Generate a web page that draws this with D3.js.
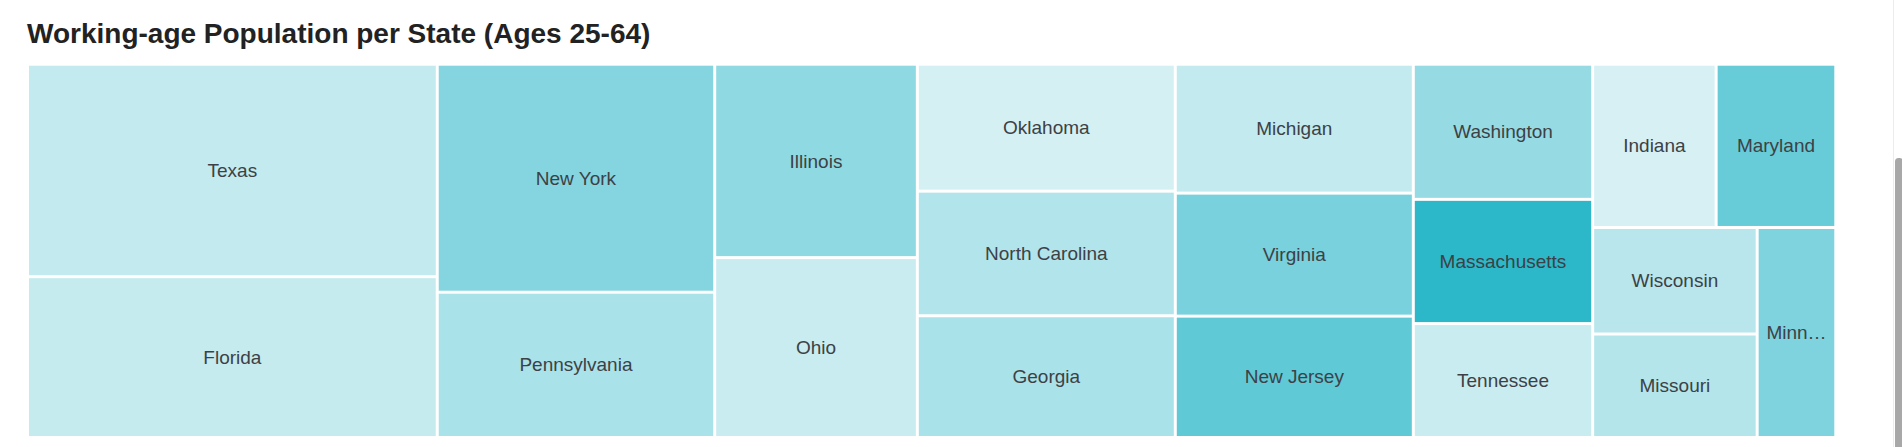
<!DOCTYPE html>
<html>
<head>
<meta charset="utf-8">
<script src="https://cdn.jsdelivr.net/npm/d3@7"></script>
<style>
  html, body { margin: 0; padding: 0; background: #ffffff; overflow: hidden; }
  svg { display: block; }
</style>
</head>
<body>
<svg id="chart" width="1902" height="447"></svg>
<script>
// ---- data ----
const chartTitle = "Working-age Population per State (Ages 25-64)";
const states = ["Texas", "Florida", "New York", "Pennsylvania", "Illinois", "Ohio",
  "Oklahoma", "North Carolina", "Georgia", "Michigan", "Virginia", "New Jersey",
  "Washington", "Massachusetts", "Tennessee", "Indiana", "Maryland", "Wisconsin",
  "Missouri", "Minnesota"];
// working-age population, thousands (estimated from tile areas)
const population = [15550, 11770, 11300, 7200, 7000, 6510, 5850, 5740, 5610, 5480,
  5230, 5160, 4330, 3980, 3650, 3600, 3490, 3130, 3040, 2950];
// colour variable (estimated share with a degree, %)
const degreeShare = [29.5, 29.2, 36.7, 32.3, 35.4, 28.8, 27.3, 31.4, 32.3, 29.5,
  38.0, 40.9, 34.6, 46.8, 28.7, 27.2, 39.9, 30.7, 31.3, 37.3];

// ---- layout ----
const width = 1902, height = 447;
const margin = { top: 65.7, left: 29, right: 1902 - 1834.3, bottom: 447 - 436 };
const innerW = width - margin.left - margin.right;
const innerH = height - margin.top - margin.bottom;

const svg = d3.select("#chart");

svg.append("text")
  .attr("x", 27)
  .attr("y", 43)
  .attr("font-family", "'Liberation Sans', Arial, Helvetica, sans-serif")
  .attr("font-weight", "bold")
  .attr("font-size", 28)
  .attr("fill", "#222222")
  .text(chartTitle);

const rows = states.map((s, i) => ({ name: s, value: population[i], share: degreeShare[i] }));

const root = d3.hierarchy({ children: rows })
  .sum(d => d.value || 0)
  .sort((a, b) => b.value - a.value);

d3.treemap()
  .size([innerW, innerH])
  .tile(d3.treemapSquarify)
  .paddingInner(3)
  .round(false)(root);

const color = d3.scaleLinear()
  .domain([27, 47])
  .range(["#d8f1f4", "#2ab7c9"])
  .interpolate(d3.interpolateRgb);

const g = svg.append("g").attr("transform", `translate(${margin.left},${margin.top})`);

const cell = g.selectAll("g.cell")
  .data(root.leaves())
  .join("g")
  .attr("class", "cell")
  .attr("transform", d => `translate(${d.x0},${d.y0})`);

cell.append("rect")
  .attr("width", d => d.x1 - d.x0)
  .attr("height", d => d.y1 - d.y0)
  .attr("fill", d => color(d.data.share));

cell.append("text")
  .attr("x", d => (d.x1 - d.x0) / 2)
  .attr("y", d => (d.y1 - d.y0) / 2)
  .attr("dy", "0.35em")
  .attr("text-anchor", "middle")
  .attr("font-family", "'Liberation Sans', Arial, Helvetica, sans-serif")
  .attr("font-size", 19)
  .attr("fill", "#3d4145")
  .text(d => d.data.name)
  .each(function (d) {
    const avail = (d.x1 - d.x0) - 12;
    const el = d3.select(this);
    let txt = d.data.name;
    if (this.getComputedTextLength() > avail) {
      while (txt.length > 1) {
        txt = txt.slice(0, -1);
        el.text(txt + "\u2026");
        if (this.getComputedTextLength() <= avail) break;
      }
    }
  });

// page scrollbar, as seen in the reference screenshot
svg.append("line")
  .attr("x1", 1893.5).attr("x2", 1893.5).attr("y1", 0).attr("y2", height)
  .attr("stroke", "#ececec").attr("stroke-width", 1);
svg.append("rect")
  .attr("x", 1895).attr("y", 158).attr("width", 8).attr("height", 300)
  .attr("rx", 3.5).attr("fill", "#a8a8a8");
</script>
</body>
</html>
